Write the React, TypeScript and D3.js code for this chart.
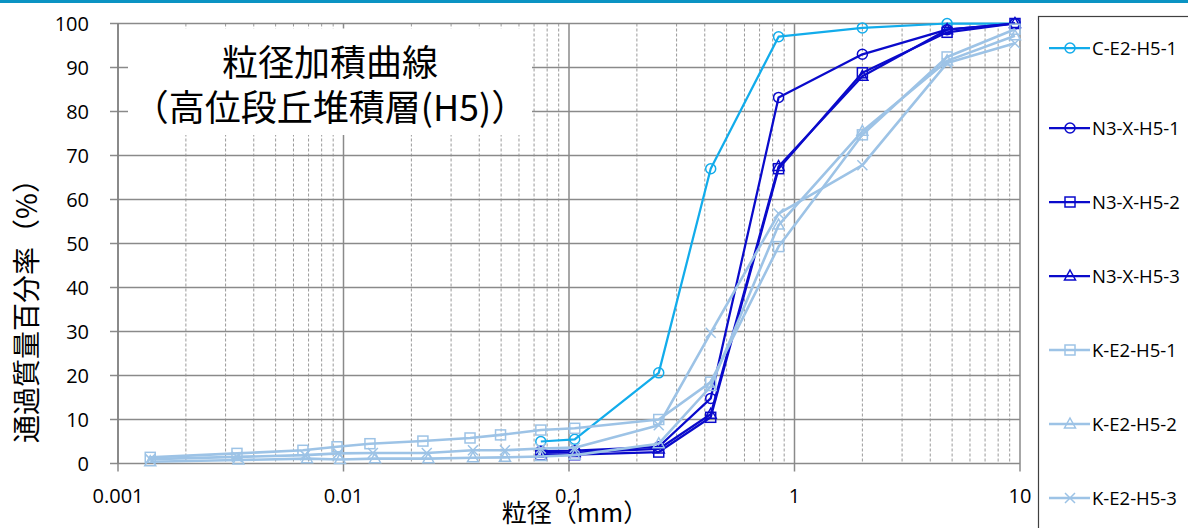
import React from "react";
import * as d3 from "d3";

// ---- data ----
const sieveSizes = [0.075, 0.106, 0.25, 0.425, 0.85, 2, 4.75, 9.5];
const cE2H51 = [5.0, 5.5, 20.6, 67.0, 97.0, 99.0, 100, 100];
const n3XH51 = [2.8, 2.9, 3.8, 14.8, 83.2, 93.0, 98.6, 100];
const n3XH52 = [1.9, 2.0, 2.6, 10.5, 67.0, 88.8, 98.0, 100];
const n3XH53 = [2.4, 2.5, 3.3, 11.2, 67.5, 88.0, 98.6, 100];

const kE2H51Sizes = [0.00139, 0.00337, 0.00661, 0.00936, 0.0131, 0.0225, 0.0364, 0.0497, 0.075, 0.106, 0.25, 0.425, 0.85, 2, 4.75, 9.5];
const kE2H51 = [1.4, 2.3, 3.0, 3.8, 4.5, 5.1, 5.8, 6.5, 7.6, 8.0, 10.0, 18.5, 49.3, 74.7, 92.4, 98.7];
const kE2H52Sizes = [0.00139, 0.00342, 0.00689, 0.00965, 0.0138, 0.0238, 0.0375, 0.052, 0.075, 0.106, 0.25, 0.425, 0.85, 2, 4.75, 9.5];
const kE2H52 = [0.4, 0.8, 1.1, 0.9, 1.1, 1.1, 1.3, 1.4, 1.6, 1.9, 4.5, 17.5, 54.2, 75.5, 91.5, 97.2];
const kE2H53Sizes = [0.00139, 0.00337, 0.00675, 0.00948, 0.0135, 0.0234, 0.0375, 0.052, 0.075, 0.106, 0.25, 0.425, 0.85, 2, 4.75, 9.5];
const kE2H53 = [1.0, 1.5, 1.9, 2.3, 2.4, 2.4, 3.0, 3.0, 3.4, 3.6, 8.7, 29.7, 56.8, 67.8, 91.0, 95.5];

const seriesNames = ["C-E2-H5-1", "N3-X-H5-1", "N3-X-H5-2", "N3-X-H5-3", "K-E2-H5-1", "K-E2-H5-2", "K-E2-H5-3"];
const xTickLabels = ["0.001", "0.01", "0.1", "1", "10"];
const yTickValues = [0, 10, 20, 30, 40, 50, 60, 70, 80, 90, 100];
const titleLines = ["粒径加積曲線", "（高位段丘堆積層(H5)）"];
const yAxisTitle = "通過質量百分率（%）";
const xAxisTitle = "粒径（mm）";

type Marker = "circle" | "square" | "triangle" | "cross";
const seriesDefs: { name: string; xs: number[]; ys: number[]; color: string; marker: Marker; width: number }[] = [
  { name: seriesNames[0], xs: sieveSizes, ys: cE2H51, color: "#12ACEB", marker: "circle", width: 2.25 },
  { name: seriesNames[1], xs: sieveSizes, ys: n3XH51, color: "#0A0ACB", marker: "circle", width: 2.25 },
  { name: seriesNames[2], xs: sieveSizes, ys: n3XH52, color: "#0A0ACB", marker: "square", width: 2.25 },
  { name: seriesNames[3], xs: sieveSizes, ys: n3XH53, color: "#0A0ACB", marker: "triangle", width: 2.25 },
  { name: seriesNames[4], xs: kE2H51Sizes, ys: kE2H51, color: "#9DC3E6", marker: "square", width: 2.6 },
  { name: seriesNames[5], xs: kE2H52Sizes, ys: kE2H52, color: "#9DC3E6", marker: "triangle", width: 2.6 },
  { name: seriesNames[6], xs: kE2H53Sizes, ys: kE2H53, color: "#9DC3E6", marker: "cross", width: 2.6 },
];

const W = 1188;
const H = 528;
const L = 118, R = 1020, T = 23.5, B = 463.5;

function MarkerShape({ type, x, y, color }: { type: Marker; x: number; y: number; color: string }) {
  const s = 5;
  const common = { fill: "none", stroke: color, strokeWidth: 1.5 };
  if (type === "circle") return <circle cx={x} cy={y} r={s} {...common} />;
  if (type === "square") return <rect x={x - s} y={y - s} width={2 * s} height={2 * s} {...common} />;
  if (type === "triangle")
    return <path d={`M${x},${y - s - 1}L${x + s + 0.5},${y + s - 1}L${x - s - 0.5},${y + s - 1}Z`} {...common} />;
  return <path d={`M${x - s},${y - s}L${x + s},${y + s}M${x - s},${y + s}L${x + s},${y - s}`} {...common} />;
}

export default function App() {
  const x = d3.scaleLog().domain([0.001, 10]).range([L, R]);
  const y = d3.scaleLinear().domain([0, 100]).range([B, T]);

  const majors = [0.001, 0.01, 0.1, 1, 10];
  const minors: number[] = [];
  for (let e = -3; e < 1; e++) for (let k = 2; k <= 9; k++) minors.push(k * Math.pow(10, e));

  const line = d3
    .line<[number, number]>()
    .x((d) => x(d[0]))
    .y((d) => y(d[1]));

  const font = "'Open Sans', 'Liberation Sans', sans-serif";
  const cjk = "'Noto Sans CJK JP', 'Noto Sans', sans-serif";

  const legendX = 1049;
  const legendYs = seriesNames.map((_, i) => (i === 0 ? 48 : 128 + (i - 1) * 74));

  return (
    <svg width={W} height={H} style={{ position: "fixed", left: 0, top: 0, background: "#fff" }}>
      <rect x={0} y={0} width={W} height={H} fill="#fff" />
      <rect x={0} y={0} width={W} height={3} fill="#0A93C3" />

      {/* minor vertical gridlines */}
      {minors.map((m, i) => (
        <line key={"mi" + i} x1={x(m)} x2={x(m)} y1={T} y2={B} stroke="#9a9a9a" strokeWidth={1} strokeDasharray="3,2" />
      ))}
      {/* horizontal gridlines */}
      {yTickValues.map((v) => (
        <line key={"h" + v} x1={L} x2={R} y1={y(v)} y2={y(v)} stroke="#8a8a8a" strokeWidth={1.5} />
      ))}
      {/* major vertical gridlines */}
      {majors.map((m, i) => (
        <line key={"ma" + i} x1={x(m)} x2={x(m)} y1={T} y2={B + 8} stroke="#8a8a8a" strokeWidth={1.5} />
      ))}
      {/* y ticks */}
      {yTickValues.map((v) => (
        <line key={"yt" + v} x1={L - 8} x2={L} y1={y(v)} y2={y(v)} stroke="#8a8a8a" strokeWidth={1.5} />
      ))}
      <line x1={L} x2={L} y1={T} y2={B} stroke="#808080" strokeWidth={1.5} />

      {/* title box */}
      <rect x={128} y={28.5} width={404} height={106.5} fill="#fff" />
      <text x={330} y={76} textAnchor="middle" fontFamily={cjk} fontSize={36} fill="#000">
        {titleLines[0]}
      </text>
      <text x={330} y={121} textAnchor="middle" fontFamily={cjk} fontSize={36} fill="#000">
        {titleLines[1]}
      </text>

      {/* series */}
      {seriesDefs.map((s) => {
        const pts = s.xs.map((d, i) => [d, s.ys[i]] as [number, number]);
        return (
          <g key={s.name}>
            <path d={line(pts) || ""} fill="none" stroke={s.color} strokeWidth={s.width} strokeLinejoin="round" />
            {pts.map((p, i) => (
              <MarkerShape key={i} type={s.marker} x={x(p[0])} y={y(p[1])} color={s.color} />
            ))}
          </g>
        );
      })}

      {/* tick labels */}
      {yTickValues.map((v) => (
        <text key={"yl" + v} x={89} y={y(v)} dy="0.35em" textAnchor="end" fontFamily={font} fontSize={20} fill="#000">
          {v}
        </text>
      ))}
      {majors.map((m, i) => (
        <text key={"xl" + i} x={x(m)} y={503} textAnchor="middle" fontFamily={font} fontSize={20} fill="#000">
          {xTickLabels[i]}
        </text>
      ))}

      {/* axis titles */}
      <text
        transform={`translate(37,${304}) rotate(-90)`}
        textAnchor="middle"
        fontFamily={cjk}
        fontSize={28}
        fill="#000"
      >
        {yAxisTitle}
      </text>
      <text x={575} y={522} textAnchor="middle" fontFamily={cjk} fontSize={25} fill="#000">
        {xAxisTitle}
      </text>

      {/* legend */}
      <rect x={1038.5} y={16.5} width={200} height={600} fill="#fff" stroke="#404040" strokeWidth={1.2} />
      {seriesDefs.map((s, i) => (
        <g key={"lg" + i}>
          <line x1={legendX} x2={legendX + 41} y1={legendYs[i]} y2={legendYs[i]} stroke={s.color} strokeWidth={s.width} />
          <MarkerShape type={s.marker} x={legendX + 21} y={legendYs[i]} color={s.color} />
          <text x={legendX + 43} y={legendYs[i]} dy="0.36em" fontFamily={font} fontSize={18.5} fill="#000">
            {s.name}
          </text>
        </g>
      ))}
    </svg>
  );
}
